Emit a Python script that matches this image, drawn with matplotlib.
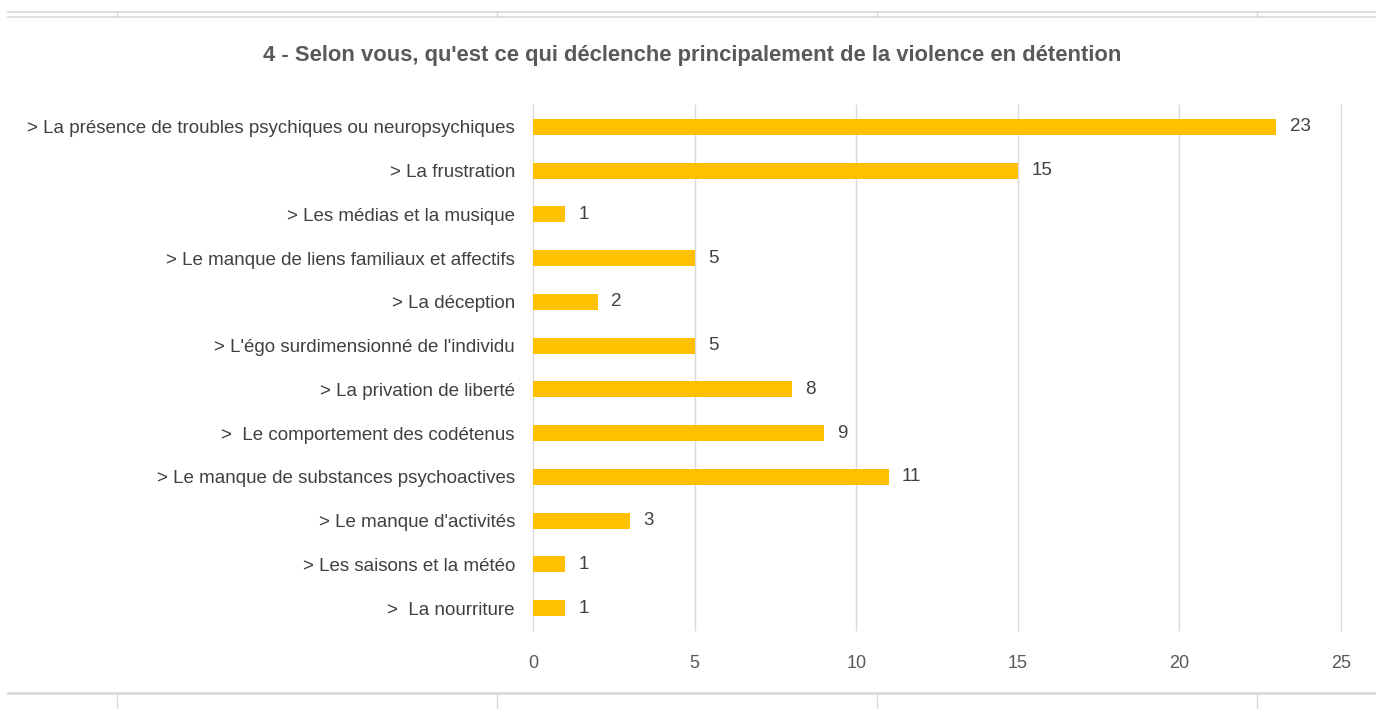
import matplotlib
matplotlib.use("Agg")
import matplotlib.pyplot as plt
from matplotlib.lines import Line2D
from matplotlib import font_manager

names = {f.name for f in font_manager.fontManager.ttflist}
FONT = "Liberation Sans Narrow" if "Liberation Sans Narrow" in names else "Liberation Sans"
plt.rcParams['font.family'] = [FONT, 'DejaVu Sans']

categories = [
    "> La présence de troubles psychiques ou neuropsychiques",
    "> La frustration",
    "> Les médias et la musique",
    "> Le manque de liens familiaux et affectifs",
    "> La déception",
    "> L'égo surdimensionné de l'individu",
    "> La privation de liberté",
    ">  Le comportement des codétenus",
    "> Le manque de substances psychoactives",
    "> Le manque d'activités",
    "> Les saisons et la météo",
    ">  La nourriture",
]
values = [23, 15, 1, 5, 2, 5, 8, 9, 11, 3, 1, 1]
xticks = [0, 5, 10, 15, 20, 25]
title = "4 - Selon vous, qu'est ce qui déclenche principalement de la violence en détention"

W, H = 1376, 709
fig = plt.figure(figsize=(W / 100, H / 100), dpi=100)
ax = fig.add_axes([533 / W, 1 - 630 / H, (1341 - 533) / W, (630 - 105) / H])

y = list(range(len(categories)))
ax.barh(y, values, height=0.37, color="#FFC000", zorder=3)
ax.set_ylim(len(categories) - 0.5, -0.5)
ax.set_xlim(0, 25)
ax.set_xticks(xticks)
ax.set_xticklabels([str(t) for t in xticks], fontsize=13, color="#595959")
ax.set_yticks(y)
ax.set_yticklabels(categories, fontsize=13.5, color="#404040")
ax.tick_params(axis="both", length=0)
ax.tick_params(axis="x", pad=18)
ax.tick_params(axis="y", pad=13)
for s in ax.spines.values():
    s.set_visible(False)
for t in xticks:
    ax.axvline(t, color="#D9D9D9", linewidth=1, zorder=0, clip_on=False)

for yi, v in zip(y, values):
    ax.text(v + 0.42, yi, str(v), va="center", ha="left", fontsize=13.5, color="#404040")

fig.text(692 / W, 1 - 55 / H, title, ha="center", va="center", fontsize=15.8,
         fontweight="bold", color="#595959")

# decorative sheet borders
grey = "#D9D9D9"
for yy in (11.5, 16.5):
    fig.add_artist(Line2D([8 / W, 1], [1 - yy / H] * 2, color=grey, lw=1.2))
for xx in (117, 497, 877, 1257):
    fig.add_artist(Line2D([xx / W] * 2, [1 - 11.5 / H, 1 - 16.5 / H], color=grey, lw=1))
fig.add_artist(Line2D([8 / W, 1], [1 - 692.5 / H] * 2, color=grey, lw=2))
for xx in (117, 497, 877, 1257):
    fig.add_artist(Line2D([xx / W] * 2, [1 - 694 / H, 0], color=grey, lw=1))

fig.savefig("out.png", dpi=100)
